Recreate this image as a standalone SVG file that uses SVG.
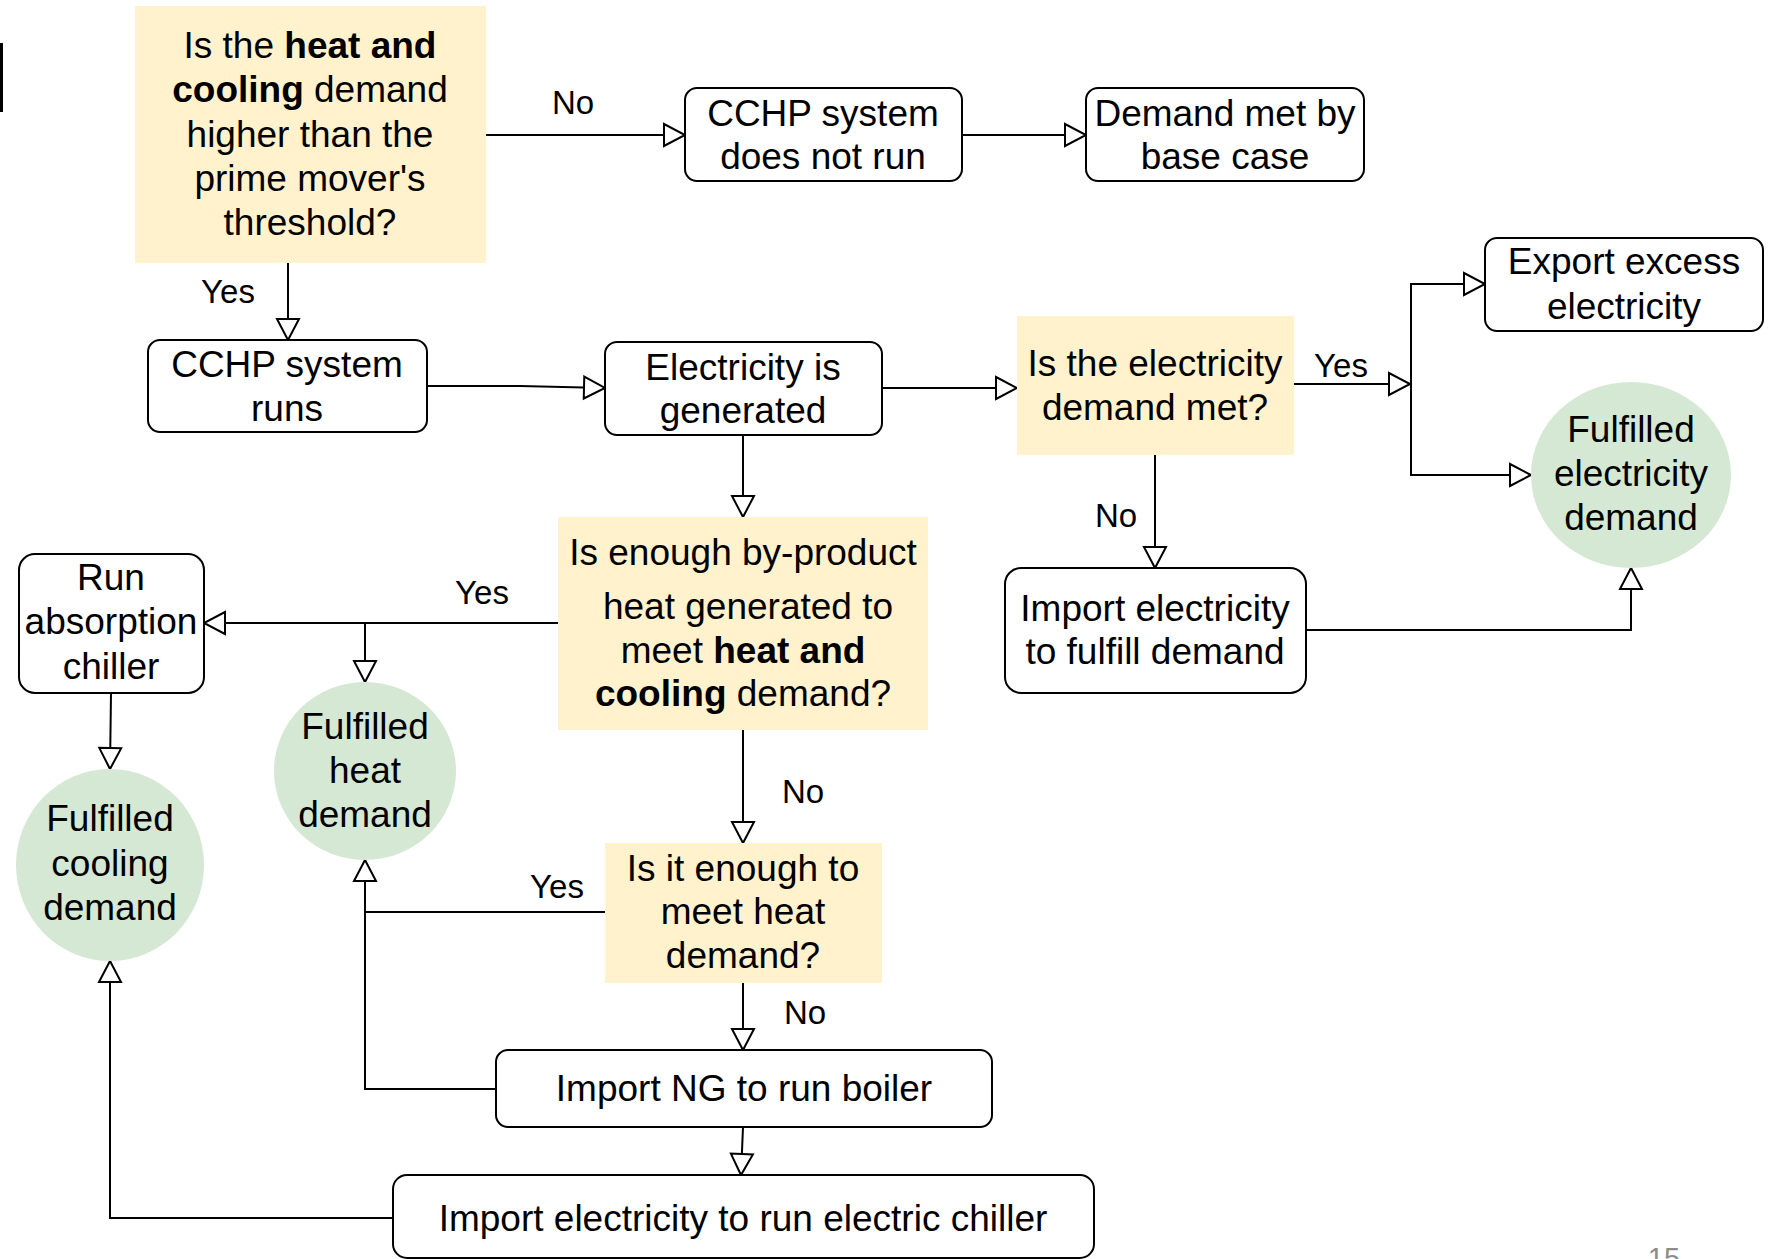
<svg xmlns="http://www.w3.org/2000/svg" width="1775" height="1259" viewBox="0 0 1775 1259">
<style>
  text { font-family: "Liberation Sans", Arial, Helvetica, sans-serif; font-size: 37px; fill: #000; text-anchor: middle; }
  .lbl { font-size: 33px; }
  .b { font-weight: bold; }
  .box { fill: #fff; stroke: #000; stroke-width: 2; }
  .dec { fill: #fff2cc; stroke: none; }
  .end { fill: #d5e8d4; stroke: none; }
  .edge { fill: none; stroke: #000; stroke-width: 2; }
  .ea { marker-end: url(#arr); }
  .pg { font-size: 29px; fill: #8c8c8c; }
</style>
<defs>
  <marker id="arr" markerUnits="userSpaceOnUse" markerWidth="26" markerHeight="26" viewBox="0 0 26 26" refX="22" refY="12" orient="auto" overflow="visible">
    <path d="M1,1 L22,12 L1,23 Z" fill="#fff" stroke="#000" stroke-width="2"/>
  </marker>
</defs>
<rect x="0" y="43" width="3" height="69" fill="#000"/>

<g id="connectors">
  <path class="edge ea" d="M486,135 H685"/>
  <path class="edge ea" d="M962,135 H1086"/>
  <path class="edge ea" d="M288,263 V340"/>
  <path class="edge ea" d="M427,386 H520 L605,388"/>
  <path class="edge ea" d="M882,388 H1017"/>
  <path class="edge ea" d="M1294,384 H1410"/>
  <path class="edge ea" d="M1411,384 V284 H1485"/>
  <path class="edge ea" d="M1411,384 V475 H1531"/>
  <path class="edge ea" d="M1155,455 V568"/>
  <path class="edge ea" d="M1306,630 H1631 V568"/>
  <path class="edge ea" d="M743,435 V517"/>
  <path class="edge ea" d="M558,623 H204"/>
  <path class="edge ea" d="M365,623 V682"/>
  <path class="edge ea" d="M111,693 L110,769"/>
  <path class="edge ea" d="M743,730 V843"/>
  <path class="edge ea" d="M605,912 H365 V860"/>
  <path class="edge ea" d="M743,983 V1050"/>
  <path class="edge" d="M496,1089 H365 V912"/>
  <path class="edge ea" d="M743,1127 L741,1175"/>
  <path class="edge ea" d="M393,1218 H110 V961"/>
  <text class="lbl" x="573" y="114">No</text>
  <text class="lbl" x="228" y="303">Yes</text>
  <text class="lbl" x="1341" y="377">Yes</text>
  <text class="lbl" x="1116" y="527">No</text>
  <text class="lbl" x="482" y="604">Yes</text>
  <text class="lbl" x="803" y="803">No</text>
  <text class="lbl" x="557" y="898">Yes</text>
  <text class="lbl" x="805" y="1024">No</text>
</g>

<g id="d1">
  <rect class="dec" x="135" y="6" width="351" height="257"/>
  <text x="310" y="58">Is the <tspan class="b">heat and</tspan></text>
  <text x="310" y="102"><tspan class="b">cooling</tspan> demand</text>
  <text x="310" y="147">higher than the</text>
  <text x="310" y="191">prime mover's</text>
  <text x="310" y="235">threshold?</text>
</g>
<g id="notrun">
  <rect class="box" x="685" y="88" width="277" height="93" rx="12"/>
  <text x="823" y="126">CCHP system</text>
  <text x="823" y="169">does not run</text>
</g>
<g id="basecase">
  <rect class="box" x="1086" y="88" width="278" height="93" rx="12"/>
  <text x="1225" y="126">Demand met by</text>
  <text x="1225" y="169">base case</text>
</g>
<g id="runs">
  <rect class="box" x="148" y="340" width="279" height="92" rx="12"/>
  <text x="287" y="377">CCHP system</text>
  <text x="287" y="421">runs</text>
</g>
<g id="elecgen">
  <rect class="box" x="605" y="342" width="277" height="93" rx="12"/>
  <text x="743" y="380">Electricity is</text>
  <text x="743" y="423">generated</text>
</g>
<g id="d2">
  <rect class="dec" x="1017" y="316" width="277" height="139"/>
  <text x="1155" y="376">Is the electricity</text>
  <text x="1155" y="420">demand met?</text>
</g>
<g id="export">
  <rect class="box" x="1485" y="238" width="278" height="93" rx="12"/>
  <text x="1624" y="274">Export excess</text>
  <text x="1624" y="319">electricity</text>
</g>
<g id="fulelec">
  <ellipse class="end" cx="1631" cy="475" rx="100" ry="93"/>
  <text x="1631" y="442">Fulfilled</text>
  <text x="1631" y="486">electricity</text>
  <text x="1631" y="530">demand</text>
</g>
<g id="d3">
  <rect class="dec" x="558" y="517" width="370" height="213"/>
  <text x="743" y="565">Is enough by-product</text>
  <text x="748" y="619">heat generated to</text>
  <text x="743" y="663">meet <tspan class="b">heat and</tspan></text>
  <text x="743" y="706"><tspan class="b">cooling</tspan> demand?</text>
</g>
<g id="importelec">
  <rect class="box" x="1005" y="568" width="301" height="125" rx="16"/>
  <text x="1155" y="621">Import electricity</text>
  <text x="1155" y="664">to fulfill demand</text>
</g>
<g id="absorption">
  <rect class="box" x="19" y="554" width="185" height="139" rx="16"/>
  <text x="111" y="590">Run</text>
  <text x="111" y="634">absorption</text>
  <text x="111" y="679">chiller</text>
</g>
<g id="fulheat">
  <ellipse class="end" cx="365" cy="771" rx="91" ry="89"/>
  <text x="365" y="739">Fulfilled</text>
  <text x="365" y="783">heat</text>
  <text x="365" y="827">demand</text>
</g>
<g id="fulcool">
  <ellipse class="end" cx="110" cy="865" rx="94" ry="96"/>
  <text x="110" y="831">Fulfilled</text>
  <text x="110" y="876">cooling</text>
  <text x="110" y="920">demand</text>
</g>
<g id="d4">
  <rect class="dec" x="605" y="843" width="277" height="140"/>
  <text x="743" y="881">Is it enough to</text>
  <text x="743" y="924">meet heat</text>
  <text x="743" y="968">demand?</text>
</g>
<g id="boiler">
  <rect class="box" x="496" y="1050" width="496" height="77" rx="12"/>
  <text x="744" y="1101">Import NG to run boiler</text>
</g>
<g id="chiller">
  <rect class="box" x="393" y="1175" width="701" height="83" rx="14"/>
  <text x="743" y="1231">Import electricity to run electric chiller</text>
</g>
<text class="pg" x="1664" y="1268">15</text>
</svg>
